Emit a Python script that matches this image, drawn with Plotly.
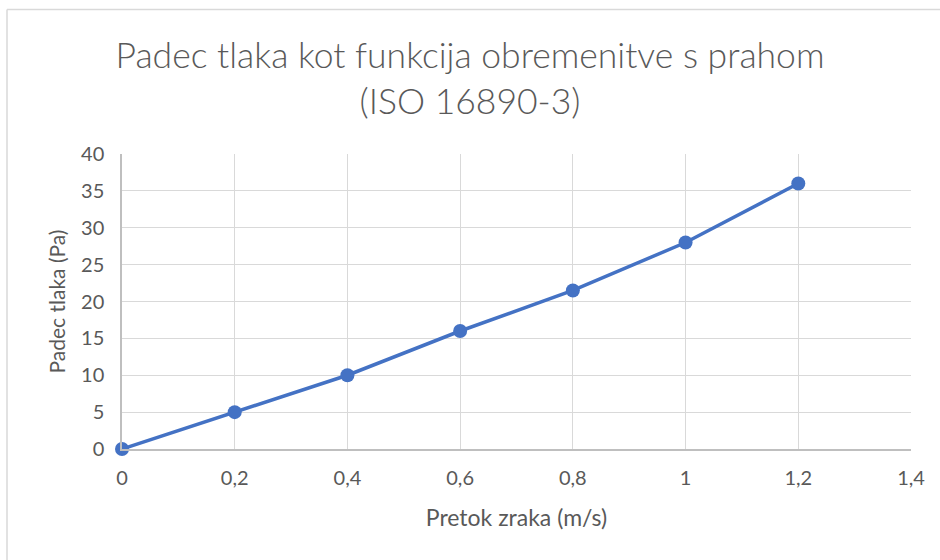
import plotly.graph_objects as go

# Air velocity (m/s) and pressure drop (Pa)
pretok = [0, 0.2, 0.4, 0.6, 0.8, 1.0, 1.2]
padec = [0, 5, 10, 16, 21.5, 28, 36]

x_ticks = [0, 0.2, 0.4, 0.6, 0.8, 1.0, 1.2, 1.4]
x_tick_labels = ["0", "0,2", "0,4", "0,6", "0,8", "1", "1,2", "1,4"]
y_ticks = [0, 5, 10, 15, 20, 25, 30, 35, 40]

FONT = "Lato, 'Open Sans', sans-serif"
TEXT = "#595959"
GRID = "#d9d9d9"
BLUE = "#4472c4"

fig = go.Figure()
fig.add_trace(go.Scatter(
    x=pretok, y=padec, mode="lines+markers",
    line=dict(color=BLUE, width=3.5),
    marker=dict(color=BLUE, size=14),
    showlegend=False, cliponaxis=False,
))

W, H = 940, 560
ml, mr, mt, mb = 122, 29, 154, 111
pw, ph = W - ml - mr, H - mt - mb

fig.update_layout(
    width=W, height=H,
    margin=dict(l=ml, r=mr, t=mt, b=mb),
    paper_bgcolor="white", plot_bgcolor="white",
    font=dict(family=FONT, color=TEXT),
    title=dict(
        text="Padec tlaka kot funkcija obremenitve s prahom<br>(ISO 16890-3)",
        x=0.5, xanchor="center", y=1 - 68 / H, yanchor="middle",
        font=dict(size=35.5, color=TEXT, family=FONT, weight=300),
    ),
    xaxis=dict(
        range=[0, 1.4], tickvals=x_ticks, ticktext=x_tick_labels,
        showgrid=True, gridcolor=GRID, gridwidth=1.3,
        showline=True, linecolor="#bfbfbf", linewidth=1.5,
        zeroline=False, ticks="", tickfont=dict(size=20, color=TEXT),
        ticklabelstandoff=10,
        title=dict(text="Pretok zraka (m/s)", font=dict(size=23, color=TEXT), standoff=22),
    ),
    yaxis=dict(
        range=[0, 40], tickvals=y_ticks,
        showgrid=True, gridcolor=GRID, gridwidth=1.3,
        showline=True, linecolor="#bfbfbf", linewidth=1.5,
        zeroline=False, ticks="", tickfont=dict(size=20, color=TEXT),
        ticklabelstandoff=12,
        title=dict(text="Padec tlaka (Pa)", font=dict(size=21, color=TEXT), standoff=10),
    ),
)

# Chart frame (top and left edges)
fx0 = (7 - ml) / pw
fy_top = 1 + (mt - 9.5) / ph
fx1 = 1 + (W - ml - pw) / pw
fy0 = -(mb) / ph
fig.add_shape(type="line", xref="paper", yref="paper",
              x0=fx0, x1=fx1, y0=fy_top, y1=fy_top,
              line=dict(color="#d9d9d9", width=1.5))
fig.add_shape(type="line", xref="paper", yref="paper",
              x0=fx0, x1=fx0, y0=fy0, y1=fy_top,
              line=dict(color="#d9d9d9", width=1.5))

fig.write_html("out.html")
